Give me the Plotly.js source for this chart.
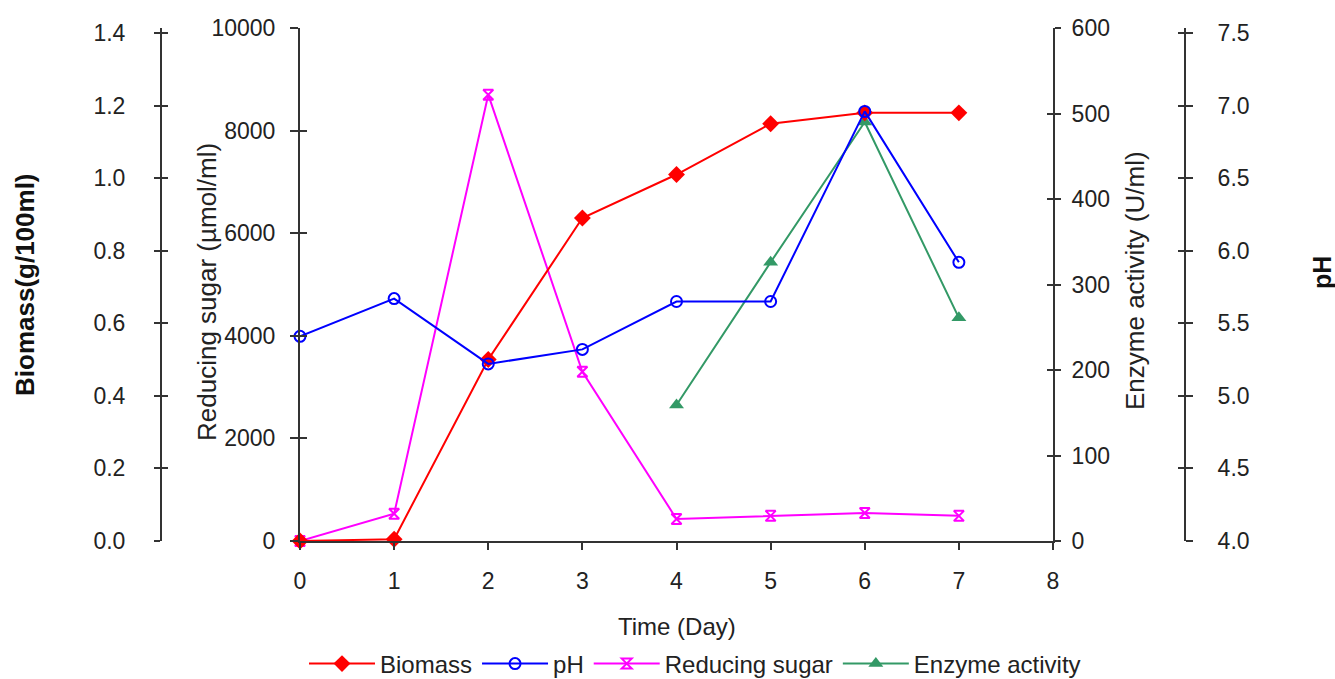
<!DOCTYPE html>
<html>
<head>
<meta charset="utf-8">
<script src="https://cdn.plot.ly/plotly-3.0.1.min.js"></script>
<style>html,body{margin:0;padding:0;background:#fff;}#chart{width:1335px;height:679px;}</style>
</head>
<body>
<div id="chart"></div>
<script>
// ---- data ----
var days = [0, 1, 2, 3, 4, 5, 6, 7];
var biomass = [0, 0.005, 0.50, 0.89, 1.01, 1.15, 1.18, 1.18];
var pH = [5.41, 5.67, 5.22, 5.32, 5.65, 5.65, 6.96, 5.92];
var reducingSugar = [0, 530, 8700, 3300, 430, 490, 545, 490];
var enzymeDays = [4, 5, 6, 7];
var enzymeActivity = [159, 326, 490, 261];

var xTitle = 'Time (Day)';
var biomassTitle = 'Biomass(g/100ml)';
var sugarTitle = 'Reducing sugar (µmol/ml)';
var enzymeTitle = 'Enzyme activity (U/ml)';
var pHTitle = 'pH';

// ---- layout helpers ----
var W = 1335, H = 679, T = 28, B = 138;
var plotH = H - T - B;
function px(x) { return x / W; }
function py(y) { return (H - B - y) / plotH; }

var FONT = 'Liberation Sans, Arial, sans-serif';
var AX = '#333333';
var tickFont = {family: FONT, size: 23, color: '#222'};

function baseAxis(extra) {
  var a = {
    showline: true, linecolor: AX, linewidth: 2,
    ticks: 'outside', ticklen: 8, tickwidth: 2, tickcolor: AX,
    showgrid: false, zeroline: false, tickfont: tickFont, fixedrange: true
  };
  for (var k in extra) a[k] = extra[k];
  return a;
}
function twinAxis(extra) {
  var a = {
    showline: false, ticks: 'inside', ticklen: 7, tickwidth: 2, tickcolor: AX,
    showgrid: false, zeroline: false, showticklabels: false, fixedrange: true
  };
  for (var k in extra) a[k] = extra[k];
  return a;
}

var bioRange = [0, 1.4 * (H - B - T) / (541 - 33)];
var pHRange = [4, 4 + 3.5 * (H - B - T) / (541 - 33)];

var traces = [
  {x: days, y: biomass, name: 'Biomass', yaxis: 'y3', mode: 'lines+markers',
   line: {color: '#ff0000', width: 2}, marker: {symbol: 'diamond', size: 13, color: '#ff0000'}, cliponaxis: false},
  {x: days, y: pH, name: 'pH', yaxis: 'y4', mode: 'lines+markers',
   line: {color: '#0000ff', width: 2}, marker: {symbol: 'circle-open', size: 11, color: '#0000ff', line: {width: 2}}, cliponaxis: false},
  {x: days, y: reducingSugar, name: 'Reducing sugar', yaxis: 'y', mode: 'lines+markers',
   line: {color: '#ff00ff', width: 2}, marker: {symbol: 'hourglass-open', size: 10, color: '#ff00ff', line: {width: 2}}, cliponaxis: false},
  {x: enzymeDays, y: enzymeActivity, name: 'Enzyme activity', yaxis: 'y2', mode: 'lines+markers',
   line: {color: '#339966', width: 2}, marker: {symbol: 'triangle-up', size: 13, color: '#339966'}, cliponaxis: false}
];
// invisible helper traces so that twin (inside-tick) axes are drawn
['y5', 'y6', 'y7', 'y8'].forEach(function (ya) {
  traces.push({x: [null], y: [null], yaxis: ya, showlegend: false, hoverinfo: 'skip', mode: 'markers'});
});

var layout = {
  width: W, height: H,
  margin: {l: 0, r: 0, t: T, b: B, pad: 0},
  paper_bgcolor: '#ffffff', plot_bgcolor: '#ffffff',
  font: {family: FONT, color: '#222'},
  showlegend: true,
  legend: {orientation: 'h', xref: 'container', yref: 'container', x: px(695), xanchor: 'center',
           y: (H - 664) / H, yanchor: 'middle',
           font: {family: FONT, size: 24, color: '#222'}, itemwidth: 66, bgcolor: 'rgba(0,0,0,0)', tracegroupgap: 0},
  xaxis: baseAxis({domain: [px(300), px(1053)], range: [0, 8], dtick: 1, tick0: 0, ticklen: 7,
                   ticklabelstandoff: 11}),
  yaxis: baseAxis({anchor: 'x', side: 'left', range: [0, 10000], dtick: 2000, tick0: 0, tickformat: 'd',
                   ticklabelstandoff: 10}),
  yaxis2: baseAxis({anchor: 'x', overlaying: 'y', side: 'right', range: [0, 600], dtick: 100, tick0: 0,
                    ticklen: 6, ticklabelstandoff: 6}),
  yaxis3: baseAxis({anchor: 'free', overlaying: 'y', side: 'left', position: px(161), range: bioRange,
                    dtick: 0.2, tick0: 0, tickformat: '.1f', ticklen: 6, ticklabelstandoff: 24}),
  yaxis4: baseAxis({anchor: 'free', overlaying: 'y', side: 'right', position: px(1185), range: pHRange,
                    dtick: 0.5, tick0: 4, tickformat: '.1f', ticklen: 7, ticklabelstandoff: 20}),
  yaxis5: twinAxis({anchor: 'x', overlaying: 'y', side: 'left', range: [0, 10000], dtick: 2000, tick0: 0}),
  yaxis6: twinAxis({anchor: 'x', overlaying: 'y', side: 'right', range: [0, 600], dtick: 100, tick0: 0, ticklen: 6}),
  yaxis7: twinAxis({anchor: 'free', overlaying: 'y', side: 'left', position: px(161), range: bioRange, dtick: 0.2, tick0: 0, ticklen: 6}),
  yaxis8: twinAxis({anchor: 'free', overlaying: 'y', side: 'right', position: px(1185), range: pHRange, dtick: 0.5, tick0: 4, ticklen: 7}),
  annotations: [
    {text: xTitle, xref: 'paper', yref: 'paper', x: px(677), y: py(626), xanchor: 'center', yanchor: 'middle',
     showarrow: false, font: {family: FONT, size: 24, color: '#222'}},
    {text: biomassTitle, xref: 'paper', yref: 'paper', x: px(25), y: py(285), xanchor: 'center', yanchor: 'middle',
     textangle: -90, showarrow: false, font: {family: FONT, size: 26, color: '#111', weight: 'bold'}},
    {text: sugarTitle, xref: 'paper', yref: 'paper', x: px(207), y: py(292), xanchor: 'center', yanchor: 'middle',
     textangle: -90, showarrow: false, font: {family: FONT, size: 26, color: '#222'}},
    {text: enzymeTitle, xref: 'paper', yref: 'paper', x: px(1135), y: py(281), xanchor: 'center', yanchor: 'middle',
     textangle: -90, showarrow: false, font: {family: FONT, size: 26, color: '#222'}},
    {text: pHTitle, xref: 'paper', yref: 'paper', x: px(1322), y: py(273), xanchor: 'center', yanchor: 'middle',
     textangle: -90, showarrow: false, font: {family: FONT, size: 25, color: '#111', weight: 'bold'}}
  ]
};

Plotly.newPlot('chart', traces, layout, {staticPlot: true, displayModeBar: false});
</script>
</body>
</html>
